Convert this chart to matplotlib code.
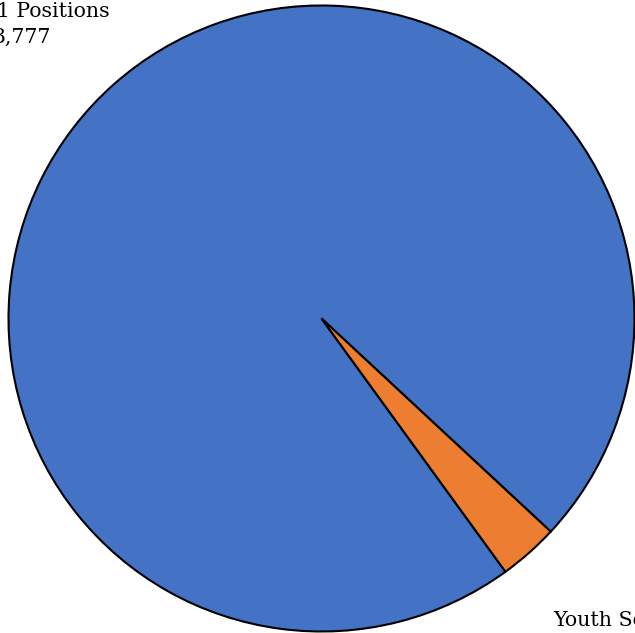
import matplotlib
matplotlib.use("Agg")
import matplotlib.pyplot as plt

# Position counts by category
categories = ["Level 1 Positions", "Youth Services"]
values = [3777, 120]
colors = ["#4472C4", "#ED7D31"]

W, H = 635, 633
fig = plt.figure(figsize=(W / 100, H / 100), dpi=100)
ax = fig.add_axes([0, 0, 1, 1])

ax.pie(
    values,
    colors=colors,
    startangle=-54.0,
    counterclock=False,
    radius=1.0,
    wedgeprops=dict(edgecolor="black", linewidth=1.5),
)

# 313 px per data unit, pie centre at (321.5, 318.5) px from top-left
scale = 313.0
cx, cy = 321.5, H - 318.5
ax.set_xlim(-cx / scale, (W - cx) / scale)
ax.set_ylim(-cy / scale, (H - cy) / scale)
ax.set_aspect("auto")
ax.axis("off")

font = dict(family="DejaVu Serif", size=14.8, color="black")

# Outside-end data labels (category and value); anchored on the last line's baseline
labels = [f"{c}\n{v:,}" for c, v in zip(categories, values)]
fig.text(110 / W, 1 - 43 / H, labels[0], ha="right", va="baseline",
         multialignment="center", linespacing=1.45, **font)
fig.text(553 / W, 1 - 652 / H, labels[1], ha="left", va="baseline",
         multialignment="center", linespacing=1.45, **font)

fig.savefig("out.png", dpi=100)
